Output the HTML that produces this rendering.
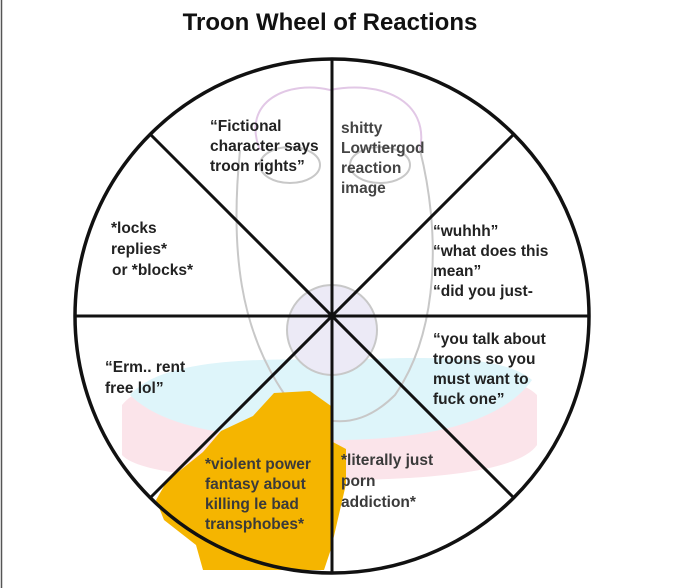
<!DOCTYPE html>
<html><head><meta charset="utf-8"><style>
html,body{margin:0;padding:0;background:#fff;}
svg{display:block;}
text{font-family:"Liberation Sans",Arial,sans-serif;font-weight:bold;font-size:15.5px;fill:#222;}
</style></head><body>
<svg width="680" height="588" viewBox="0 0 680 588" xmlns="http://www.w3.org/2000/svg">
<rect x="0" y="0" width="680" height="588" fill="#fff"/>
<line x1="1.5" y1="0" x2="1.5" y2="588" stroke="#555" stroke-width="1.5"/>
<!-- pastel bands -->
<path d="M122,405 C150,370 250,375 332,378 C420,375 510,368 537,395 L537,445 C520,470 440,480 332,480 C230,480 140,475 122,455 Z" fill="#fbe4ea"/>
<path d="M130,395 C160,360 250,358 332,360 C410,358 500,352 532,380 C500,425 420,440 332,440 C245,440 165,430 130,395 Z" fill="#def5fa"/>
<!-- faint face sketch -->
<g fill="none" stroke="#c8c8c8" stroke-width="2">
<path d="M240,150 C230,250 240,330 285,395 C320,430 360,430 395,395 C440,330 440,230 420,150"/>
<ellipse cx="332" cy="330" rx="45" ry="45" fill="#eceaf6"/>
<ellipse cx="290" cy="165" rx="30" ry="18"/>
<ellipse cx="380" cy="165" rx="30" ry="18"/>
</g>
<path d="M260,150 C240,100 290,80 330,90 C380,80 430,100 420,150" fill="none" stroke="#e2c8e6" stroke-width="2"/>
<!-- orange blob -->
<polygon points="156,500 164,520 196,545 203,570 324,570 331,549 346,484 346,449 331,441 331,406 310,391 274,393 253,416 221,431 203,452 167,481" fill="#f5b500"/>
<!-- wheel -->
<circle cx="332" cy="316" r="257" fill="none" stroke="#111" stroke-width="3.5"/>
<g stroke="#111" stroke-width="3">
<line x1="332" y1="59" x2="332" y2="573"/>
<line x1="75" y1="316" x2="589" y2="316"/>
<line x1="150" y1="134" x2="514" y2="498"/>
<line x1="514" y1="134" x2="150" y2="498"/>
</g>
<text x="330" y="30" text-anchor="middle" style="font-size:24px;fill:#111">Troon Wheel of Reactions</text>
<text x="210" y="131"><tspan x="210">“Fictional</tspan><tspan x="210" dy="20">character says</tspan><tspan x="210" dy="20">troon rights”</tspan></text>
<text x="341" y="133" style="fill:#444"><tspan x="341">shitty</tspan><tspan x="341" dy="20">Lowtiergod</tspan><tspan x="341" dy="20">reaction</tspan><tspan x="341" dy="20">image</tspan></text>
<text x="111" y="233"><tspan x="111">*locks</tspan><tspan x="111" dy="21">replies*</tspan><tspan x="112" dy="21">or *blocks*</tspan></text>
<text x="433" y="236"><tspan x="433">“wuhhh”</tspan><tspan x="433" dy="20">“what does this</tspan><tspan x="433" dy="20">mean”</tspan><tspan x="433" dy="20">“did you just-</tspan></text>
<text x="105" y="372"><tspan x="105">“Erm.. rent</tspan><tspan x="105" dy="21">free lol”</tspan></text>
<text x="433" y="344"><tspan x="433">“you talk about</tspan><tspan x="433" dy="20">troons so you</tspan><tspan x="433" dy="20">must want to</tspan><tspan x="433" dy="20">fuck one”</tspan></text>
<text x="205" y="469" style="fill:#3a3a3a"><tspan x="205">*violent power</tspan><tspan x="205" dy="20">fantasy about</tspan><tspan x="205" dy="20">killing le bad</tspan><tspan x="205" dy="20">transphobes*</tspan></text>
<text x="341" y="465" style="fill:#3a3a3a"><tspan x="341">*literally just</tspan><tspan x="341" dy="21">porn</tspan><tspan x="341" dy="21">addiction*</tspan></text>
</svg>
</body></html>
